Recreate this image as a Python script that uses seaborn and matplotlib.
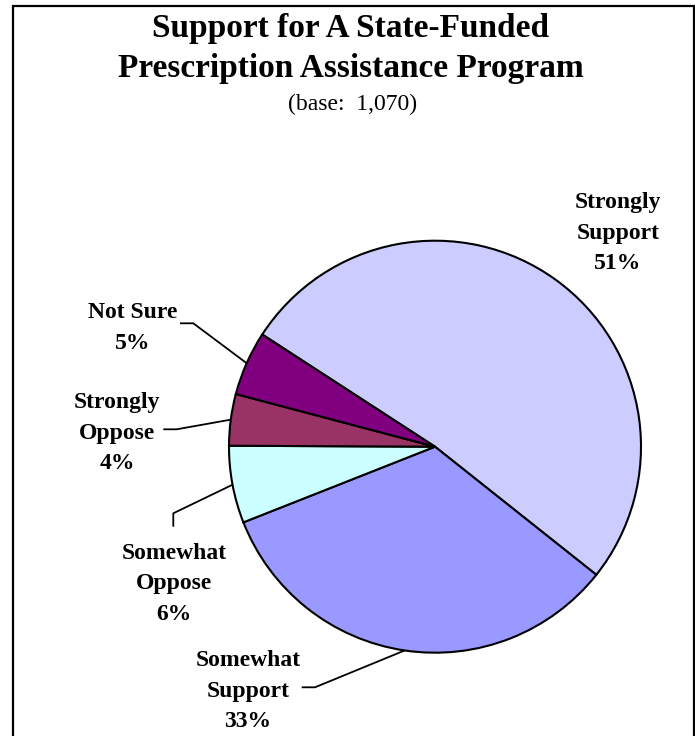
import numpy as np
import matplotlib
matplotlib.use("Agg")
import matplotlib.pyplot as plt
from matplotlib.patches import Rectangle
import seaborn as sns

# Survey responses
categories = ["Strongly\nSupport", "Somewhat\nSupport", "Somewhat\nOppose",
              "Strongly\nOppose", "Not Sure"]
percents = [51, 33, 6, 4, 5]
colors = ["#CCCCFF", "#9999FF", "#CCFFFF", "#993366", "#800080"]

title_lines = ["Support for A State-Funded", "Prescription Assistance Program"]
subtitle = "(base:  1,070)"

sns.set_theme(style="white")
plt.rcParams["font.family"] = ["Liberation Serif", "DejaVu Serif"]
plt.rcParams["text.color"] = "black"

W, H = 695, 736
fig = plt.figure(figsize=(W / 100, H / 100), dpi=100)
ax = fig.add_axes([0, 0, 1, 1])

cx, cy, r = 435, 289.3, 206
wedges, _ = ax.pie(percents, colors=colors, startangle=147, counterclock=False,
                   center=(cx, cy), radius=r,
                   wedgeprops=dict(edgecolor="black", linewidth=1.5))
ax.set_xlim(0, W)
ax.set_ylim(0, H)
ax.set_aspect("equal")
ax.axis("off")

# Outer frame
ax.add_patch(Rectangle((13, -20), 681, H - 5.7 + 20, fill=False,
                       edgecolor="black", linewidth=1.6, clip_on=False))

# Title block
ax.text(351, H - 37, title_lines[0], ha="center", va="baseline",
        fontsize=24, fontweight="bold", color="black")
ax.text(351, H - 77, title_lines[1], ha="center", va="baseline",
        fontsize=24, fontweight="bold", color="black")
ax.text(353, H - 110, subtitle, ha="center", va="baseline", fontsize=17,
        color="black")

# Label placement and leader elbows for each slice
label_pos = [(618, 503), (248, 45), (174, 152), (117, 303), (133, 408)]
elbows = [None,
          [(301.7, 48.7), (315, 48.7)],
          [(173.3, 209.3), (173.3, 222.7)],
          [(163.3, 306.7), (176.7, 306.7)],
          [(180, 412.7), (193.3, 412.7)]]

for w, cat, pct, pos, elb in zip(wedges, categories, percents, label_pos, elbows):
    ax.text(pos[0], pos[1], f"{cat}\n{pct}%", ha="center", va="center",
            fontsize=17, fontweight="bold", linespacing=1.6, color="black")
    if elb is not None:
        mid = np.deg2rad((w.theta1 + w.theta2) / 2)
        ex, ey = cx + r * np.cos(mid), cy + r * np.sin(mid)
        xs = [p[0] for p in elb] + [ex]
        ys = [p[1] for p in elb] + [ey]
        ax.plot(xs, ys, color="black", linewidth=1.3, solid_capstyle="butt")

fig.savefig("out.png", dpi=100)
